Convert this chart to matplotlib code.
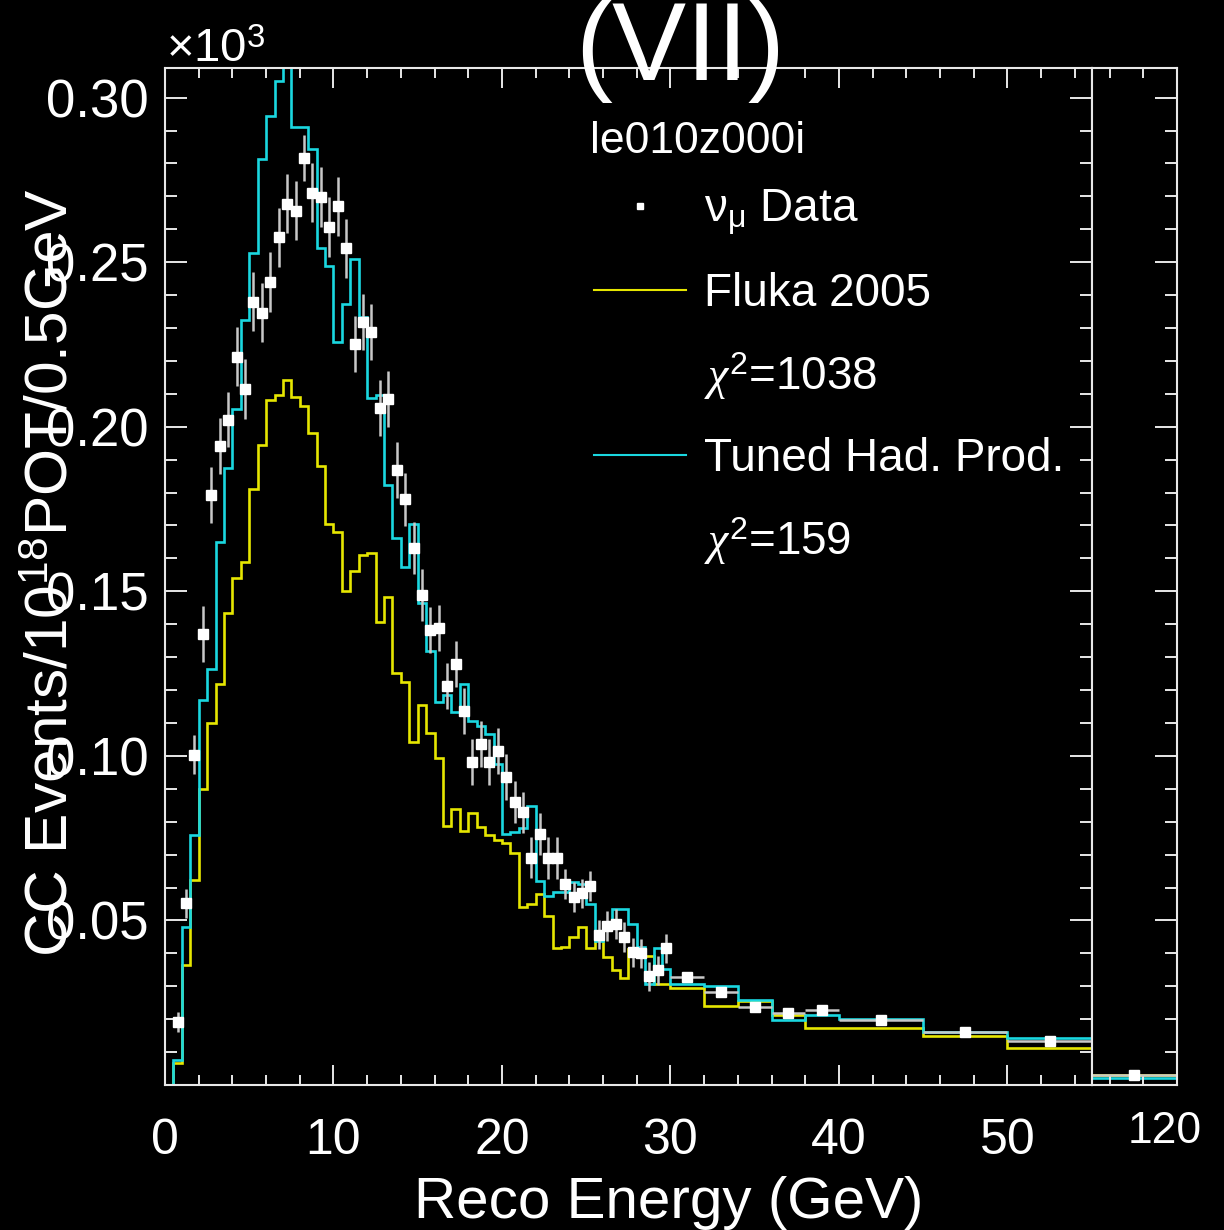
import numpy as np
import matplotlib
matplotlib.use("Agg")
import matplotlib.pyplot as plt
from matplotlib.lines import Line2D
from matplotlib.transforms import ScaledTranslation

plt.rcParams['font.family'] = ['Liberation Sans', 'DejaVu Sans']
plt.rcParams['mathtext.fontset'] = 'custom'
plt.rcParams['mathtext.rm'] = 'Liberation Sans'
plt.rcParams['mathtext.it'] = 'Liberation Serif:italic'
plt.rcParams['mathtext.bf'] = 'Liberation Sans:bold'

# bin edges in GeV: 0.5 GeV bins to 30, 2 GeV to 40, 5 GeV to 55
fine_edges = np.arange(0, 30.01, 0.5)
edges = np.concatenate([fine_edges, [32, 34, 36, 38, 40, 45, 50, 55]])
# overflow bin drawn on its own little pad
tail_edges = [55, 120]

fluka = [0, 0.0067, 0.0366, 0.0624, 0.090, 0.110, 0.1218, 0.1433, 0.154, 0.1588,
         0.1812, 0.1946, 0.2082, 0.2095, 0.2142, 0.209, 0.2062, 0.198, 0.188, 0.1706,
         0.1679, 0.1502, 0.1563, 0.161, 0.1617, 0.1406, 0.1482, 0.1252, 0.1224, 0.1042,
         0.1156, 0.107, 0.0994, 0.0786, 0.084, 0.0772, 0.0825, 0.0784, 0.076, 0.0745,
         0.0735, 0.0706, 0.0542, 0.055, 0.058, 0.0515, 0.0416, 0.042, 0.0449, 0.048,
         0.0415, 0.0469, 0.0388, 0.0348, 0.0326, 0.0413, 0.0393, 0.0393, 0.0307, 0.0307,
         0.0295, 0.0239, 0.0255, 0.0212, 0.0174, 0.0174, 0.0149, 0.0111]

tuned = [0, 0.0076, 0.048, 0.076, 0.117, 0.1265, 0.165, 0.1875, 0.2055, 0.2325,
         0.2527, 0.2812, 0.2945, 0.3052, 0.318, 0.291, 0.291, 0.2845, 0.2542, 0.2487,
         0.2257, 0.2373, 0.2509, 0.2333, 0.2087, 0.2095, 0.1822, 0.1663, 0.1575, 0.1706,
         0.1464, 0.132, 0.1164, 0.1186, 0.1134, 0.1218, 0.1105, 0.109, 0.1065, 0.0976,
         0.0764, 0.077, 0.0782, 0.0848, 0.062, 0.0575, 0.0585, 0.0585, 0.0617, 0.061,
         0.055, 0.0439, 0.0496, 0.0535, 0.0535, 0.049, 0.0418, 0.0307, 0.0415, 0.0353,
         0.0307, 0.030, 0.0257, 0.0199, 0.0212, 0.0200, 0.0162, 0.0144]

data = [np.nan, 0.0191, 0.0552, 0.1004, 0.137, 0.1792, 0.1942, 0.2022, 0.2213, 0.2115,
        0.238, 0.2346, 0.244, 0.2575, 0.2678, 0.2656, 0.2817, 0.2711, 0.2698, 0.2607,
        0.267, 0.2542, 0.2252, 0.2317, 0.2287, 0.2057, 0.2085, 0.1868, 0.1779, 0.1632,
        0.1489, 0.1383, 0.1388, 0.1211, 0.1279, 0.1137, 0.0982, 0.1037, 0.0982, 0.1016,
        0.0936, 0.086, 0.0828, 0.0691, 0.0762, 0.069, 0.069, 0.0611, 0.0572, 0.0582,
        0.0605, 0.0457, 0.0484, 0.049, 0.045, 0.0403, 0.040, 0.033, 0.0348, 0.0415,
        0.0328, 0.0282, 0.0237, 0.0218, 0.0229, 0.0198, 0.0161, 0.0134]

data_err = [np.nan, 0.003, 0.0045, 0.0058, 0.0085, 0.0085, 0.0085, 0.0085, 0.009, 0.009,
            0.009, 0.009, 0.009, 0.009, 0.009, 0.009, 0.007, 0.009, 0.009, 0.009,
            0.009, 0.009, 0.0085, 0.0085, 0.0085, 0.0085, 0.0085, 0.0085, 0.008, 0.008,
            0.008, 0.007, 0.007, 0.007, 0.007, 0.007, 0.007, 0.007, 0.007, 0.007,
            0.007, 0.0063, 0.0063, 0.0063, 0.0063, 0.0063, 0.0063, 0.0045, 0.0045, 0.0045,
            0.0045, 0.0045, 0.0045, 0.0045, 0.0045, 0.0045, 0.0045, 0.0045, 0.0045, 0.0045,
            0.0015, 0.0015, 0.0012, 0.0012, 0.0012, 0.001, 0.001, 0.001]

tail_fluka = [0.0030]
tail_tuned = [0.0022]
tail_data = [0.0030]
tail_err = [0.0006]

yticks = [0.05, 0.10, 0.15, 0.20, 0.25, 0.30]
xticks = [0, 10, 20, 30, 40, 50]

W, H = 1224, 1230
fig = plt.figure(figsize=(W / 100, H / 100), dpi=100, facecolor='black')

x0, x55, x1 = 165, 1091.7, 1177
ytop, ybot = 68, 1085
ax = fig.add_axes([x0 / W, 1 - ybot / H, (x55 - x0) / W, (ybot - ytop) / H])
ax2 = fig.add_axes([x55 / W, 1 - ybot / H, (x1 - x55) / W, (ybot - ytop) / H], sharey=ax)

fg = '#e8e8e8'
yellow = '#e6e600'
cyan = '#1ad7e0'
errc = '#c8c8c8'

for a in (ax, ax2):
    a.set_facecolor('black')
    for s in a.spines.values():
        s.set_color(fg)
        s.set_linewidth(1.5)

centers = (edges[:-1] + edges[1:]) / 2
halfw = (edges[1:] - edges[:-1]) / 2

ax.stairs(fluka, edges, baseline=None, color=yellow, lw=1.9)
ax.stairs(tuned, edges, baseline=None, color=cyan, lw=1.9)
ax.errorbar(centers, data, yerr=data_err, xerr=halfw, fmt='s', ms=7.2,
            mfc='white', mec='white', ecolor=errc, elinewidth=1.8, capsize=0)

tc = np.array([(tail_edges[0] + tail_edges[1]) / 2])
ax2.stairs(tail_fluka, tail_edges, baseline=None, color=yellow, lw=1.9)
ax2.stairs(tail_tuned, tail_edges, baseline=None, color=cyan, lw=1.9)
ax2.errorbar(tc, tail_data, yerr=tail_err, xerr=[(tail_edges[1] - tail_edges[0]) / 2],
             fmt='s', ms=7.2, mfc='white', mec='white', ecolor=errc, elinewidth=1.8, capsize=0)

ax.set_xlim(0, 55)
ax2.set_xlim(55, 120)
ax.set_ylim(0, 0.309)

ax.set_xticks(xticks)
ax.set_xticklabels([str(t) for t in xticks])
ax.set_xticks(np.arange(2, 55, 2), minor=True)
ax.set_yticks(yticks)
ax.set_yticklabels(['%.2f' % t for t in yticks])
ax.set_yticks(np.arange(0.01, 0.305, 0.01), minor=True)

ax.tick_params(which='both', direction='in', colors=fg, top=True, right=True, width=1.4)
ax.tick_params(axis='x', which='major', length=14.5, labelsize=36, pad=24, labelcolor='white')
ax.tick_params(axis='x', which='minor', length=7.2)
ax.tick_params(axis='y', which='major', length=15.5, labelsize=38, pad=12, labelcolor='white')
ax.tick_params(axis='y', which='minor', length=8.5)

ax2.set_xticks([120])
ax2.set_xticklabels(['120'])
ax2.set_xticks([69, 94], minor=True)
ax2.tick_params(which='both', direction='in', colors=fg, top=True, right=True,
                left=False, labelleft=False, width=1.4)
ax2.tick_params(axis='x', which='major', length=14.5, labelsize=32, pad=19, labelcolor='white')
ax2.tick_params(axis='x', which='minor', length=7.2)
ax2.tick_params(axis='y', which='major', length=15.5)
ax2.tick_params(axis='y', which='minor', length=8.5)
for lab in ax2.get_xticklabels():
    lab.set_transform(lab.get_transform() + ScaledTranslation(-12 / 100, 0, fig.dpi_scale_trans))

# texts
fig.text(680 / W, 1 - 80 / H, '(VII)', ha='center', va='baseline', fontsize=80, color='white')
fig.text(166 / W, 1 - 62 / H, r'$\times\mathrm{10}^{\mathrm{3}}$', ha='left', va='baseline',
         fontsize=34, color='white')
fig.text(669 / W, 1 - 1218 / H, 'Reco Energy (GeV)', ha='center', va='baseline',
         fontsize=42, color='white')
fig.text(52 / W, 1 - 573 / H, r'CC Events/10$^{\mathrm{18}}$POT/0.5GeV', rotation=90,
         ha='center', va='center', fontsize=43.5, color='white')

# legend header
fig.text(590 / W, 1 - 153 / H, 'le010z000i', ha='left', va='baseline', fontsize=32, color='white')

handles = [Line2D([], [], ls='none', marker='s', ms=5, mfc='white', mec='white'),
           Line2D([], [], color=yellow, lw=1.5),
           Line2D([], [], ls='none'),
           Line2D([], [], color=cyan, lw=1.5),
           Line2D([], [], ls='none')]
labels = [r'$\mathrm{\nu}_{\mathrm{\mu}}$ Data', 'Fluka 2005', r'$\chi^{\mathrm{2}}$=1038',
          'Tuned Had. Prod.', r'$\chi^{\mathrm{2}}$=159']
leg = ax.legend(handles, labels, loc='upper left',
                bbox_to_anchor=(594 / W, 1 - 187 / H), bbox_transform=fig.transFigure,
                frameon=False, fontsize=33, handlelength=2.0,
                handletextpad=0.4, labelspacing=0.76, borderpad=0, borderaxespad=0,
                labelcolor='white')

fig.savefig('out.png', dpi=100, facecolor='black')
